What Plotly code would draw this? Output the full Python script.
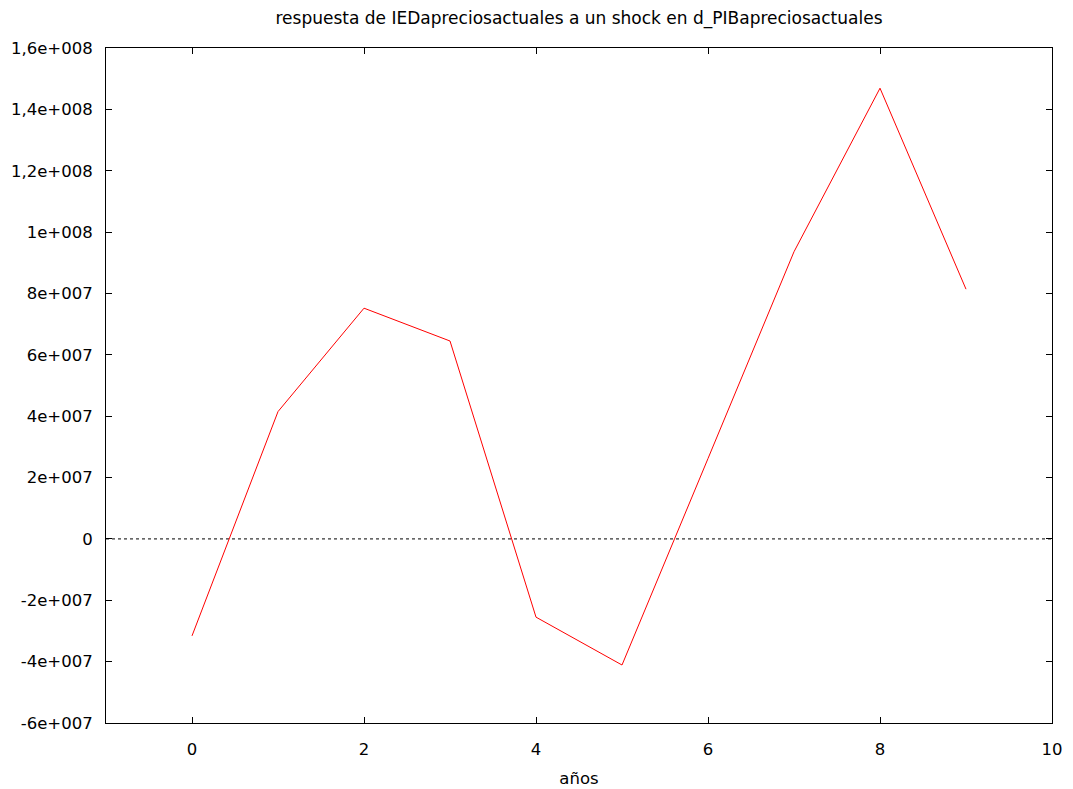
import plotly.graph_objects as go

years = [0, 1, 2, 3, 4, 5, 6, 7, 8, 9]
response = [-3.16e7, 4.15e7, 7.52e7, 6.45e7, -2.55e7, -4.11e7, 2.62e7, 9.36e7, 14.69e7, 8.14e7]

x_ticks = [0, 2, 4, 6, 8, 10]
y_ticks = [-6e7, -4e7, -2e7, 0, 2e7, 4e7, 6e7, 8e7, 1e8, 1.2e8, 1.4e8, 1.6e8]
y_ticktext = ["-6e+007", "-4e+007", "-2e+007", "0", "2e+007", "4e+007", "6e+007",
              "8e+007", "1e+008", "1,2e+008", "1,4e+008", "1,6e+008"]

font = dict(family="DejaVu Sans, Verdana, sans-serif", size=16.5, color="black")
title_font = dict(family="DejaVu Sans, Verdana, sans-serif", size=17, color="black")

fig = go.Figure()
fig.add_trace(go.Scatter(x=[-1, 10], y=[0, 0], mode="lines",
                         line=dict(color="black", width=1, dash="dot"),
                         hoverinfo="skip", showlegend=False))
fig.add_trace(go.Scatter(x=years, y=response, mode="lines",
                         line=dict(color="#ff0000", width=1), showlegend=False))

axis_common = dict(showgrid=False, zeroline=False, showline=True, linecolor="black",
                   linewidth=1, mirror="allticks", ticks="inside", ticklen=6,
                   tickcolor="black", tickfont=font, automargin=False)

fig.update_layout(
    width=1073, height=789,
    margin=dict(l=98, r=29, t=40, b=74),
    paper_bgcolor="white", plot_bgcolor="white",
    font=font,
    title=dict(text="respuesta de IEDapreciosactuales a un shock en d_PIBapreciosactuales",
               xref="paper", x=0.5, xanchor="center",
               y=1 - 10 / 789, yanchor="middle", font=title_font),
    xaxis=dict(range=[-1, 10], tickvals=x_ticks, ticktext=[str(v) for v in x_ticks],
               ticklabelstandoff=11,
               title=dict(text="años", font=font, standoff=14), **axis_common),
    yaxis=dict(range=[-6e7, 1.6e8], tickvals=y_ticks, ticktext=y_ticktext,
               ticklabelstandoff=9, **axis_common),
)

fig.write_html("out.html")
